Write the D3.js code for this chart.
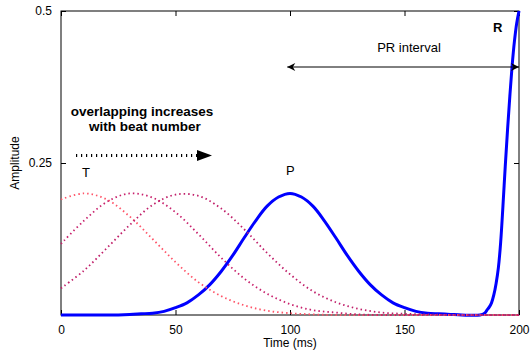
<html>
<script src="https://cdn.jsdelivr.net/npm/d3@7"></script>
<body style="margin:0">
<div id="chart"></div>
<script>
// values (time in ms, amplitude)
var tWave1 = [[0,0.190],[10,0.200],[20,0.190],[30,0.162],[40,0.125],[50,0.087],[60,0.054],[70,0.031],[80,0.016],[90,0.007],[100,0.003],[110,0.001],[120,0],[140,0],[160,0],[180,0],[200,0]];
var tWave2 = [[0,0.117],[10,0.155],[20,0.186],[30,0.200],[40,0.193],[50,0.169],[60,0.133],[70,0.094],[80,0.060],[90,0.035],[100,0.018],[110,0.008],[120,0.004],[130,0.001],[140,0],[160,0],[180,0],[200,0]];
var tWave3 = [[0,0.044],[10,0.073],[20,0.110],[30,0.148],[40,0.181],[50,0.198],[60,0.196],[70,0.175],[80,0.141],[90,0.102],[100,0.067],[110,0.039],[120,0.021],[130,0.010],[140,0.004],[150,0.002],[160,0.001],[170,0],[200,0]];
var pqrs = [[0,0],[20,0],[30,0.001],[35,0.002],[40,0.003],[45,0.006],[50,0.012],[55,0.020],[60,0.033],[65,0.050],[70,0.072],[75,0.098],[80,0.127],[85,0.155],[90,0.179],[95,0.194],[100,0.200],
  [105,0.194],[110,0.179],[115,0.155],[120,0.127],[125,0.098],[130,0.072],[135,0.050],[140,0.033],[145,0.020],[150,0.012],[155,0.006],[160,0.003],[165,0.002],[170,0.001],[175,0],[183,0],
  [185,0.003],[186,0.008],[187,0.013],[188,0.020],[189,0.033],[190,0.052],[191,0.078],[192,0.12],[193,0.18],[194,0.245],[195,0.305],[196,0.36],[197,0.41],[198,0.45],[199,0.48],[200,0.5]];
var xTicks = [0, 50, 100, 150, 200];
var yTicks = [0.25, 0.5];

var W = 531, H = 356;
var mLeft = 61, mTop = 11, mRight = 519, mBottom = 315;

var x = d3.scaleLinear().domain([0, 200]).range([mLeft, mRight]);
var y = d3.scaleLinear().domain([0, 0.5]).range([mBottom, mTop]);

var svg = d3.select("#chart").append("svg")
  .attr("width", W).attr("height", H)
  .style("font-family", "'Liberation Sans', Arial, sans-serif");

var defs = svg.append("defs");
defs.append("marker").attr("id", "head")
  .attr("viewBox", "0 0 10 10").attr("refX", 10).attr("refY", 5)
  .attr("markerWidth", 10).attr("markerHeight", 8).attr("markerUnits", "userSpaceOnUse")
  .attr("orient", "auto-start-reverse")
  .append("path").attr("d", "M0,0 L10,5 L0,10 L3,5 Z").attr("fill", "#000");

var line = d3.line()
  .x(d => x(d[0]))
  .y(d => y(Math.max(0, d[1])))
  .curve(d3.curveCatmullRom.alpha(0.5));

// box
svg.append("rect").attr("x", mLeft).attr("y", mTop)
  .attr("width", mRight - mLeft).attr("height", mBottom - mTop)
  .attr("fill", "none").attr("stroke", "#000").attr("stroke-width", 1);

// axes, ticks pointing inward
svg.append("g").attr("transform", `translate(0,${mBottom})`)
  .call(d3.axisBottom(x).tickValues(xTicks).tickSize(-5).tickPadding(10))
  .call(g => g.select(".domain").remove());
svg.append("g").attr("transform", `translate(0,${mTop})`)
  .call(d3.axisTop(x).tickValues(xTicks).tickSize(-5).tickFormat(""))
  .call(g => g.select(".domain").remove());
svg.append("g").attr("transform", `translate(${mLeft},0)`)
  .call(d3.axisLeft(y).tickValues(yTicks).tickSize(-5).tickPadding(9).tickFormat(d => String(d)))
  .call(g => g.select(".domain").remove());
svg.append("g").attr("transform", `translate(${mRight},0)`)
  .call(d3.axisRight(y).tickValues(yTicks).tickSize(-5).tickFormat(""))
  .call(g => g.select(".domain").remove());
svg.selectAll(".tick text").attr("font-size", 12).attr("font-family", "'Liberation Sans', Arial, sans-serif").attr("fill", "#000");

// P wave + R upstroke
svg.append("path").attr("d", line(pqrs))
  .attr("fill", "none").attr("stroke", "#0000ff").attr("stroke-width", 3);

// T waves, dotted
var tWaves = [tWave1, tWave2, tWave3];
var tColors = ["#ff5468", "#c8206c", "#c01f6a"];
tWaves.forEach(function(w, i) {
  svg.append("path").attr("d", line(w))
    .attr("fill", "none").attr("stroke", tColors[i])
    .attr("stroke-width", 1.8).attr("stroke-dasharray", "1.5,3");
});

// overlap arrow
svg.append("line").attr("x1", 76).attr("x2", 197).attr("y1", 155.5).attr("y2", 155.5)
  .attr("stroke", "#000").attr("stroke-width", 3).attr("stroke-dasharray", "1.2,3.8");
svg.append("path").attr("d", "M197,150 L212,155.5 L197,161 Z").attr("fill", "#000");

svg.append("text").attr("x", 142).attr("y", 116).attr("text-anchor", "middle")
  .attr("font-size", 13.5).attr("font-weight", "bold").text("overlapping increases");
svg.append("text").attr("x", 145).attr("y", 131).attr("text-anchor", "middle")
  .attr("font-size", 13.5).attr("font-weight", "bold").text("with beat number");

svg.append("text").attr("x", 82).attr("y", 177).attr("font-size", 13).text("T");
svg.append("text").attr("x", 286).attr("y", 175).attr("font-size", 13).text("P");
svg.append("text").attr("x", 493).attr("y", 32).attr("font-size", 13).attr("font-weight", "bold").text("R");

// PR interval
svg.append("line").attr("x1", x(98.8)).attr("x2", mRight).attr("y1", 67).attr("y2", 67)
  .attr("stroke", "#000").attr("stroke-width", 1)
  .attr("marker-start", "url(#head)").attr("marker-end", "url(#head)");
svg.append("text").attr("x", 409).attr("y", 52).attr("text-anchor", "middle")
  .attr("font-size", 13).text("PR interval");

// axis titles
svg.append("text").attr("x", 290).attr("y", 347).attr("text-anchor", "middle")
  .attr("font-size", 12).text("Time (ms)");
svg.append("text").attr("transform", "translate(19,163) rotate(-90)").attr("text-anchor", "middle")
  .attr("font-size", 12).text("Amplitude");
</script>
</body>
</html>
